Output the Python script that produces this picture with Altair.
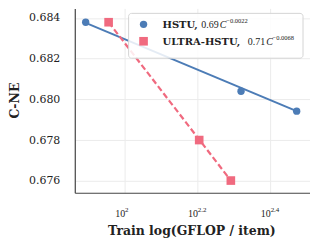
import altair as alt
import pandas as pd

# ---- data ----
series_names = ["HSTU", "ULTRA-HSTU"]
fit_coef = ["0.69", "0.71"]
fit_exp = ["\u22120.0022", "\u22120.0068"]

hstu_logx = [1.893, 2.320, 2.473]
hstu_cne = [0.68379, 0.68040, 0.67942]
ultra_logx = [1.956, 2.205, 2.292]
ultra_cne = [0.68379, 0.67800, 0.67601]

hstu_fit_logx = [1.893, 2.473]
hstu_fit_cne = [0.68376, 0.67942]
ultra_fit_logx = [1.956, 2.292]
ultra_fit_cne = [0.68379, 0.67601]

x_ticks = [2.0, 2.2, 2.4]
x_tick_exp = ["2", "2.2", "2.4"]
y_ticks = [0.676, 0.678, 0.680, 0.682, 0.684]

BLUE = "#4c7cb6"
PINK = "#f06a7f"
FONT = "DejaVu Serif"
MATH = "Liberation Serif"
W, H = 236, 185

hstu_df = pd.DataFrame({"logx": hstu_logx, "cne": hstu_cne})
ultra_df = pd.DataFrame({"logx": ultra_logx, "cne": ultra_cne})
hstu_fit = pd.DataFrame({"logx": hstu_fit_logx, "cne": hstu_fit_cne})
ultra_fit = pd.DataFrame({"logx": ultra_fit_logx, "cne": ultra_fit_cne})
ticks_df = pd.DataFrame({"logx": x_ticks, "exp": x_tick_exp})
one = pd.DataFrame({"k": [0]})

xs = alt.Scale(domain=[1.863, 2.5096], nice=False, zero=False)
ys = alt.Scale(domain=[0.67541, 0.68447], nice=False, zero=False)

x_enc = alt.X("logx:Q", scale=xs, axis=alt.Axis(
    values=x_ticks, labels=False, ticks=False, grid=True,
    title="Train log(GFLOP / item)", titleFont=FONT, titleFontSize=12.5,
    titleFontWeight="bold", titleColor="#222", titleBaseline="alphabetic",
    titleY=42, titleX=117, titleAlign="center"))
y_enc = alt.Y("cne:Q", scale=ys, axis=alt.Axis(
    values=y_ticks, format=".3f", ticks=False, grid=True, labelFont=FONT,
    labelFontSize=11, labelColor="#222", labelPadding=15,
    title="C-NE", titleFont=FONT, titleFontSize=12.5, titleFontWeight="bold",
    titleColor="#222", titleX=-60, titleY=92, titleAngle=270,
    titleAlign="center", titleBaseline="middle"))

xp = alt.X("logx:Q", scale=xs)
yp = alt.Y("cne:Q", scale=ys)

hstu_line = alt.Chart(hstu_fit).mark_line(color=BLUE, strokeWidth=2).encode(x=x_enc, y=y_enc)
ultra_line = alt.Chart(ultra_fit).mark_line(color=PINK, strokeWidth=2.2, strokeDash=[6, 3]).encode(x=xp, y=yp)
hstu_pts = alt.Chart(hstu_df).mark_point(shape="circle", filled=True, opacity=1, size=55, color=BLUE).encode(x=xp, y=yp)
ultra_pts = alt.Chart(ultra_df).mark_point(shape="square", filled=True, opacity=1, size=75, color=PINK).encode(x=xp, y=yp)

tick_base = alt.Chart(ticks_df).mark_text(
    font=MATH, fontSize=10, align="right", baseline="alphabetic", color="#222", dx=0.5
).encode(x=xp, y=alt.value(H + 24), text=alt.value("10"))
tick_exp = alt.Chart(ticks_df).mark_text(
    font=MATH, fontSize=7, align="left", baseline="alphabetic", color="#222", dx=0.5
).encode(x=xp, y=alt.value(H + 19.5), text="exp:N")

# legend (manual, for mixed bold/italic/superscript text)
legend_box = alt.Chart(one).mark_rect(
    fill="white", fillOpacity=0.85, stroke="#d4d4d4", strokeWidth=1, cornerRadius=3
).encode(x=alt.value(54), x2=alt.value(229), y=alt.value(5), y2=alt.value(50))
leg_c = alt.Chart(one).mark_point(shape="circle", filled=True, opacity=1, size=55, color=BLUE).encode(
    x=alt.value(69), y=alt.value(16))
leg_s = alt.Chart(one).mark_point(shape="square", filled=True, opacity=1, size=75, color=PINK).encode(
    x=alt.value(69), y=alt.value(33))

def txt(s, x, y, size=9.5, weight="normal", style="normal", font=FONT):
    return alt.Chart(one).mark_text(
        font=font, fontSize=size, fontWeight=weight, fontStyle=style,
        align="left", baseline="alphabetic", color="#222"
    ).encode(x=alt.value(x), y=alt.value(y), text=alt.value(s))

def legend_row(i, y, start):
    return [
        txt(series_names[i] + ",", 88, y, size=10, weight="bold"),
        txt(fit_coef[i], start, y, size=10, font=MATH),
        txt("C", start + 18.5, y, size=10, style="italic", font=MATH),
        txt(fit_exp[i], start + 25, y - 5, size=6.5, font=MATH),
    ]

legend_text = legend_row(0, 20, 127) + legend_row(1, 37, 173.5)

chart = alt.layer(
    hstu_line, ultra_line, hstu_pts, ultra_pts, tick_base, tick_exp,
    legend_box, leg_c, leg_s, *legend_text
).properties(
    width=W, height=H,
    autosize=alt.AutoSizeParams(type="none"),
    padding={"left": 67, "top": 0, "right": 0, "bottom": 46},
).configure_view(stroke=None).configure_axis(
    gridColor="#ebebeb", gridWidth=1, domainColor="#444", domainWidth=1.2
)

chart.save("out.html", embed_options={"renderer": "svg", "actions": False})
